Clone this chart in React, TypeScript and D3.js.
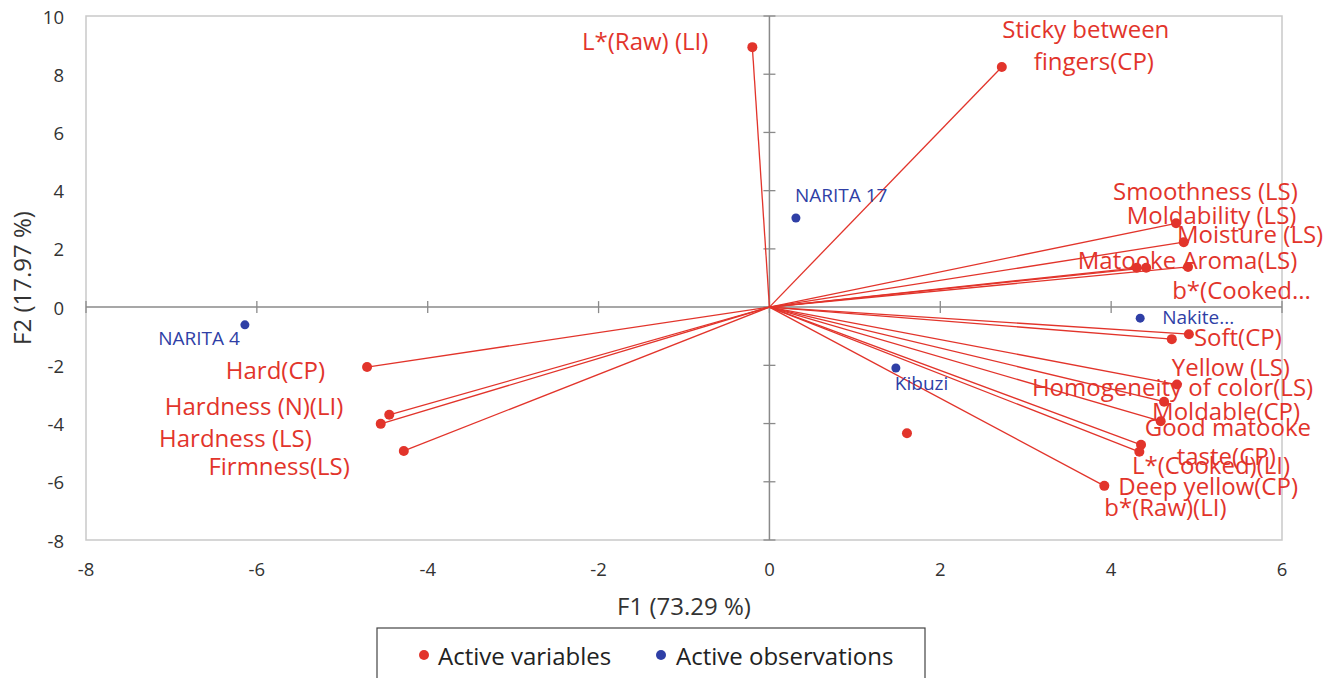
import React from "react";
import * as d3 from "d3";

// ---- data ----
const varNames = [
  "L*(Raw) (LI)",
  "Sticky between fingers(CP)",
  "Smoothness (LS)",
  "Moldability (LS)",
  "Moisture (LS)",
  "Matooke Aroma(LS)",
  "b*(Cooked...",
  "Soft(CP)",
  "Yellow (LS)",
  "Homogeneity of color(LS)",
  "Moldable(CP)",
  "Good matooke taste(CP)",
  "L*(Cooked)(LI)",
  "Deep yellow(CP)",
  "b*(Raw)(LI)",
  "Hard(CP)",
  "Hardness (N)(LI)",
  "Hardness (LS)",
  "Firmness(LS)",
];
const varF1 = [-0.2, 2.72, 4.76, 4.85, 4.9, 4.3, 4.41, 4.91, 4.71, 4.77, 4.62, 4.58, 4.35, 4.33, 3.92, -4.71, -4.45, -4.55, -4.28];
const varF2 = [8.93, 8.25, 2.88, 2.23, 1.38, 1.35, 1.35, -0.93, -1.1, -2.66, -3.25, -3.92, -4.73, -4.97, -6.14, -2.06, -3.7, -4.01, -4.94];

// unlabeled variable point (no vector drawn)
const extraF1 = [1.61];
const extraF2 = [-4.33];

const obsNames = ["NARITA 4", "NARITA 17", "Kibuzi", "Nakite..."];
const obsF1 = [-6.14, 0.31, 1.48, 4.34];
const obsF2 = [-0.61, 3.06, -2.09, -0.38];

const xTicks = [-8, -6, -4, -2, 0, 2, 4, 6];
const yTicks = [-8, -6, -4, -2, 0, 2, 4, 6, 8, 10];

// ---- label layout (pixel offsets from the point) ----
type Lab = { lines: string[]; anchor: string; dx: number[]; dy: number[] };
const varLabels: Lab[] = [
  { lines: ["L*(Raw) (LI)"], anchor: "end", dx: [-44], dy: [-7] },
  { lines: ["Sticky between", "fingers(CP)"], anchor: "middle", dx: [84, 92], dy: [-38, -6] },
  { lines: ["Smoothness (LS)"], anchor: "start", dx: [-63], dy: [-33] },
  { lines: ["Moldability (LS)"], anchor: "start", dx: [-57], dy: [-28] },
  { lines: ["Moisture (LS)"], anchor: "start", dx: [-11], dy: [-33] },
  { lines: ["Matooke Aroma(LS)"], anchor: "start", dx: [-59], dy: [-8] },
  { lines: ["b*(Cooked..."], anchor: "start", dx: [26], dy: [22] },
  { lines: ["Soft(CP)"], anchor: "start", dx: [5], dy: [2] },
  { lines: ["Yellow (LS)"], anchor: "start", dx: [0], dy: [27] },
  { lines: ["Homogeneity of color(LS)"], anchor: "start", dx: [-145], dy: [2] },
  { lines: ["Moldable(CP)"], anchor: "start", dx: [-12], dy: [9] },
  { lines: ["Good matooke", "taste(CP)"], anchor: "start", dx: [-16, 16], dy: [5, 34] },
  { lines: ["L*(Cooked)(LI)"], anchor: "start", dx: [-9], dy: [20] },
  { lines: ["Deep yellow(CP)"], anchor: "start", dx: [-21], dy: [34] },
  { lines: ["b*(Raw)(LI)"], anchor: "start", dx: [0], dy: [21] },
  { lines: ["Hard(CP)"], anchor: "end", dx: [-42], dy: [2] },
  { lines: ["Hardness (N)(LI)"], anchor: "end", dx: [-46], dy: [-9] },
  { lines: ["Hardness (LS)"], anchor: "end", dx: [-69], dy: [14] },
  { lines: ["Firmness(LS)"], anchor: "end", dx: [-54], dy: [15] },
];
const obsLabels = [
  { anchor: "end", dx: -5, dy: 13 },
  { anchor: "start", dx: -1, dy: -23 },
  { anchor: "start", dx: -1, dy: 15 },
  { anchor: "start", dx: 22, dy: -1 },
];

const RED = "#e2342b";
const BLUE = "#2f3fa6";
const FONT = "'Open Sans', sans-serif";

export default function App() {
  const W = 1338, H = 678;
  const L = 86, R = 1282, T = 16, B = 540;
  const x = d3.scaleLinear().domain([-8, 6]).range([L, R]);
  const y = d3.scaleLinear().domain([-8, 10]).range([B, T]);
  const x0 = x(0), y0 = y(0);

  return (
    <svg width={W} height={H} style={{ position: "absolute", left: 0, top: 0, background: "#fff" }} fontFamily={FONT}>
      {/* frame */}
      <rect x={L} y={T} width={R - L} height={B - T} fill="none" stroke="#c9c9c9" strokeWidth={1.5} />
      {/* zero axes */}
      <line x1={L} x2={R} y1={y0} y2={y0} stroke="#8a8a8a" strokeWidth={1.5} />
      <line x1={x0} x2={x0} y1={T} y2={B} stroke="#8a8a8a" strokeWidth={1.5} />
      {yTicks.map((t) => (
        <line key={"yt" + t} x1={x0 - 6} x2={x0 + 6} y1={y(t)} y2={y(t)} stroke="#8a8a8a" strokeWidth={1.3} />
      ))}
      {xTicks.map((t) => (
        <line key={"xt" + t} x1={x(t)} x2={x(t)} y1={y0 - 6} y2={y0 + 6} stroke="#8a8a8a" strokeWidth={1.3} />
      ))}
      {/* tick labels */}
      {yTicks.map((t) => (
        <text key={"yl" + t} x={64} y={y(t)} textAnchor="end" dominantBaseline="central" fontSize={18.5} fill="#333">
          {t}
        </text>
      ))}
      {xTicks.map((t) => (
        <text key={"xl" + t} x={x(t)} y={568} textAnchor="middle" dominantBaseline="central" fontSize={18.5} fill="#333">
          {t}
        </text>
      ))}
      {/* axis titles */}
      <text x={(L + R) / 2} y={605} textAnchor="middle" dominantBaseline="central" fontSize={24} fill="#333">
        F1 (73.29 %)
      </text>
      <text
        transform={`translate(21,${(T + B) / 2}) rotate(-90)`}
        textAnchor="middle"
        dominantBaseline="central"
        fontSize={24}
        fill="#333"
      >
        F2 (17.97 %)
      </text>

      {/* vectors */}
      {varF1.map((v, i) => (
        <line key={"v" + i} x1={x0} y1={y0} x2={x(v)} y2={y(varF2[i])} stroke={RED} strokeWidth={1.3} />
      ))}
      {/* variable points */}
      {varF1.map((v, i) => (
        <circle key={"vp" + i} cx={x(v)} cy={y(varF2[i])} r={5} fill={RED} />
      ))}
      {extraF1.map((v, i) => (
        <circle key={"ep" + i} cx={x(v)} cy={y(extraF2[i])} r={5} fill={RED} />
      ))}
      {/* observation points */}
      {obsF1.map((v, i) => (
        <circle key={"op" + i} cx={x(v)} cy={y(obsF2[i])} r={4.5} fill={BLUE} />
      ))}
      {/* labels */}
      {varLabels.map((lab, i) =>
        lab.lines.map((s, j) => (
          <text
            key={"vl" + i + "_" + j}
            x={x(varF1[i]) + lab.dx[j]}
            y={y(varF2[i]) + lab.dy[j]}
            textAnchor={lab.anchor}
            dominantBaseline="central"
            fontSize={24}
            fill={RED}
          >
            {s}
          </text>
        ))
      )}
      {obsLabels.map((lab, i) => (
        <text
          key={"ol" + i}
          x={x(obsF1[i]) + lab.dx}
          y={y(obsF2[i]) + lab.dy}
          textAnchor={lab.anchor}
          dominantBaseline="central"
          fontSize={19}
          fill={BLUE}
        >
          {obsNames[i]}
        </text>
      ))}

      {/* legend */}
      <rect x={377} y={628} width={548} height={70} fill="#fff" stroke="#444" strokeWidth={1.2} />
      <circle cx={424} cy={655} r={5} fill={RED} />
      <text x={438} y={655} dominantBaseline="central" fontSize={24} fill="#222">
        Active variables
      </text>
      <circle cx={661} cy={655} r={5} fill={BLUE} />
      <text x={676} y={655} dominantBaseline="central" fontSize={24} fill="#222">
        Active observations
      </text>
    </svg>
  );
}
